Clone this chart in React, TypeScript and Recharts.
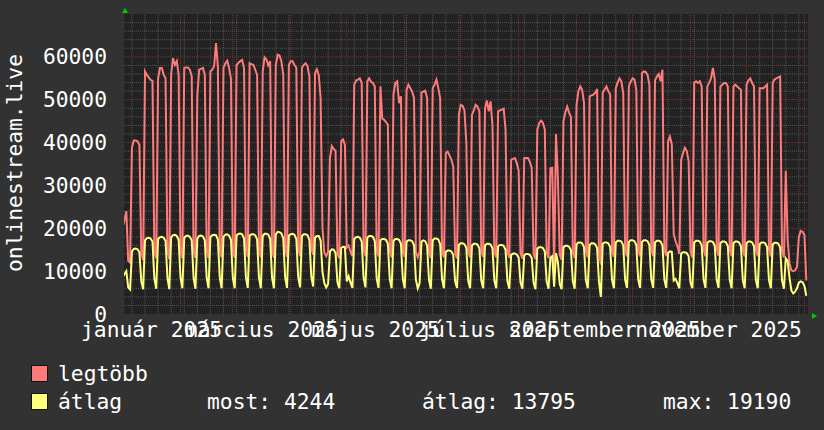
import React from 'react';
import { LineChart, Line, XAxis, YAxis, CartesianGrid, ReferenceLine } from 'recharts';

// Daily values, thousands. Index 0 = 2025-01-01 (Wednesday).
const maxK = [
  20, 22, 24, 12.4, 12,
  38.8, 40.5, 40.5, 40.3, 39.5, 14.2, 12.6,
  56.6, 55.8, 55.2, 54.6, 54.4, 14.5, 13,
  55, 57.4, 57.4, 55.8, 55, 14.6, 12.8,
  56, 59.7, 58.1, 59, 55.8, 14.8, 13,
  57.4, 57.5, 57.5, 57, 55.5, 14.6, 13.1,
  51, 57, 57.2, 57.4, 55.8, 14.7, 13,
  56.6, 57, 57.8, 63.2, 57.8, 14.9, 13.2,
  57.4, 58.5, 59.1, 57.4, 55, 14.8, 13.1,
  58.1, 58.6, 59, 59.3, 57.4, 14.9, 13.3,
  58.5, 58.3, 58.1, 57, 55.8, 14.7, 13.2,
  56.6, 59.9, 59.4, 58, 59, 14.8, 13.1,
  58, 60.5, 60.3, 59, 55.8, 15, 13.3,
  58.1, 59, 59, 58.1, 57.5, 15.2, 13.5,
  57.5, 58.1, 58.5, 57.8, 55.4, 15.5, 13.8,
  56.2, 57.1, 55.8, 50.4, 20, 14.3, 13.5,
  14.5, 36.4, 39.2, 38.5, 38.1, 14, 13,
  40.3, 40.7, 39.5, 15.5, 16, 14.5, 13.5,
  53.5, 54.5, 54.7, 55, 53.9, 15, 13.5,
  54.3, 55, 54.2, 53.9, 53.1, 14.8, 13.4,
  53.1, 45.6, 45.3, 44.8, 44.2, 14.6, 13.2,
  51.2, 53.9, 54.3, 49.2, 50.8, 14.6, 13.3,
  52.3, 53.5, 52.7, 51.9, 50.4, 14.5, 13.2,
  14.5, 51.7, 51.9, 52.1, 50.4, 14.4, 13,
  52.7, 53.5, 54.7, 52.7, 50.4, 14.6, 13.2,
  37.5, 37.9, 37, 36, 34.4, 14.2, 13,
  46.5, 48.8, 48.6, 47.5, 40, 14.5, 13.2,
  46.5, 47.5, 48.8, 48.4, 47.3, 14.6, 13.3,
  48, 49.8, 47.3, 49.6, 44, 14.6, 13.2,
  47.3, 47.5, 47.7, 47.9, 43, 14.5, 13.1,
  36, 36.2, 36.4, 35.2, 33.5, 14.2, 12.9,
  36.4, 36.4, 36.4, 35.5, 34.1, 14, 12.8,
  43, 44.5, 45.1, 44.6, 43.1, 14.3, 13,
  34, 34.1, 10.5, 42, 32, 13.8, 12.6,
  45, 47, 48.4, 47, 46, 14.4, 13,
  48.8, 52, 53.1, 52.3, 49.2, 14.6, 13.2,
  50.8, 51, 51.2, 51.6, 52.5, 14.5, 11.5,
  51.6, 52.4, 53.1, 52, 51.2, 14.7, 13.3,
  52.7, 54, 55, 54.3, 51.5, 14.8, 13.4,
  53.1, 54.2, 55, 54.7, 52.3, 14.8, 13.4,
  56.2, 56.6, 56.5, 55.8, 53.5, 15, 13.5,
  54.5, 55.4, 56, 54.3, 57, 15, 13.5,
  40.3, 41.4, 39.5, 18.7, 17, 15.8, 14,
  36, 37.5, 38.8, 38, 35.7, 14.5, 13.2,
  54, 54.3, 53.9, 54.3, 53.1, 15, 13.5,
  53.1, 54, 55, 57.4, 54.7, 15.1, 13.6,
  53.1, 53.5, 53.9, 53.9, 53.1, 15, 13.5,
  53.1, 53.5, 53.1, 52.7, 52.3, 15, 13.4,
  53.5, 54.5, 55, 53.9, 53.1, 15, 13.5,
  52.7, 52.7, 52.7, 53.1, 53.5, 15, 13.4,
  54, 54.7, 55, 55.2, 55.4, 14.8, 13.2,
  33.4, 17.5, 11.8, 10.2, 10, 10.2, 11,
  18, 19.4, 19.2, 18.4, 7.8,
];

const avgK = [
  8.5, 9.3, 10, 6.2, 5.7,
  14.6, 15.2, 15.3, 15.1, 14.4, 7.6, 5.8,
  17.2, 17.7, 17.8, 17.6, 16.9, 8.3, 5.9,
  17.5, 17.9, 18, 17.8, 17, 8.4, 5.8,
  17.9, 18.4, 18.5, 18.2, 17.3, 8.5, 6,
  17.8, 18.2, 18.3, 18, 17.2, 8.4, 5.9,
  17.6, 18.2, 18.3, 18.1, 17.2, 8.5, 6,
  18, 18.4, 18.5, 18.4, 17.4, 8.6, 6,
  18, 18.5, 18.6, 18.3, 17.3, 8.5, 6,
  18.3, 18.7, 18.8, 18.6, 17.6, 8.6, 6.1,
  18.3, 18.6, 18.6, 18.4, 17.4, 8.5, 6,
  18.2, 18.7, 18.7, 18.5, 17.5, 8.5, 6,
  18.6, 19.19, 19.1, 18.8, 17.7, 8.6, 6.1,
  18.3, 18.6, 18.7, 18.5, 17.5, 8.6, 6.2,
  18.2, 18.6, 18.6, 18.4, 17.3, 8.8, 6.4,
  17.8, 18.2, 18.2, 17.2, 9.8, 7.2, 6.2,
  7, 14.6, 15.1, 15, 14.2, 7.4, 6,
  15.4, 15.7, 15.6, 7.6, 8.8, 7.3, 6.1,
  17.5, 17.9, 18, 17.8, 16.9, 8.4, 6.2,
  17.8, 18.2, 18.2, 18, 17, 8.3, 6.1,
  17.2, 17.5, 17.5, 17.3, 16.4, 8.2, 6,
  17.1, 17.5, 17.5, 17.3, 16.4, 8.2, 6,
  16.9, 17.2, 17.2, 17, 16.1, 8, 6,
  7.2, 16.9, 17.2, 17, 16, 8, 5.9,
  17.2, 17.6, 17.6, 17.4, 16.3, 8.1, 6,
  14.5, 14.8, 14.8, 14.6, 13.8, 7.6, 6.1,
  16.1, 16.5, 16.5, 16.3, 15.4, 7.8, 6,
  16, 16.4, 16.4, 16.2, 15.3, 7.8, 6,
  16, 16.4, 16.4, 16.2, 15.3, 7.8, 6,
  15.8, 16.1, 16.1, 15.9, 15, 7.7, 5.9,
  13.8, 14.1, 14.1, 13.9, 13.2, 7.4, 5.9,
  13.7, 14, 14, 13.8, 13.1, 7.3, 5.8,
  15.3, 15.6, 15.6, 15.4, 14.6, 7.6, 5.9,
  13.2, 13.5, 6.4, 14.2, 12.2, 7, 5.8,
  15.6, 15.9, 15.9, 15.7, 14.9, 7.7, 5.9,
  16.3, 16.7, 16.7, 16.5, 15.6, 7.9, 6,
  16.1, 16.5, 16.5, 16.3, 15.4, 7.6, 4,
  16.4, 16.7, 16.7, 16.5, 15.6, 7.9, 6,
  16.7, 17.1, 17.1, 16.9, 16, 8, 6.1,
  16.8, 17.2, 17.2, 17, 16.1, 8, 6.1,
  16.8, 17.2, 17.2, 17, 16.1, 8.1, 6.1,
  16.7, 17.1, 17.1, 16.9, 16, 8, 6.1,
  14.3, 14.6, 14.5, 7.8, 8.2, 7.2, 6,
  14.1, 14.4, 14.4, 14.2, 13.5, 7.3, 6,
  16.7, 17.1, 17.1, 16.9, 16, 8, 6.1,
  16.6, 17, 17, 16.8, 15.9, 8, 6.1,
  16.5, 16.9, 16.9, 16.7, 15.8, 8, 6,
  16.5, 16.9, 16.9, 16.7, 15.8, 7.9, 6,
  16.5, 16.9, 16.9, 16.7, 15.8, 7.9, 6,
  16.3, 16.7, 16.7, 16.5, 15.6, 7.9, 6,
  16.2, 16.6, 16.6, 16.4, 15.5, 7.8, 5.9,
  13, 12.4, 8.5, 5.5, 4.8, 5.2, 6,
  7.3, 7.6, 7.4, 6.5, 4.244,
];

const monthLabels = ['január 2025', 'március 2025', 'május 2025', 'július 2025', 'szeptember 2025', 'november 2025'];
const monthLabelDays = [15.5, 74.5, 135.5, 196.5, 258, 319];
const monthStartDays = [31, 59, 90, 120, 151, 181, 212, 243, 273, 304, 334, 365];
const yTicks = [0, 10000, 20000, 30000, 40000, 50000, 60000];
const seriesNames = ['legtöbb', 'átlag'];
const avgStats = { most: '4244', atlag: '13795', max: '19190' };

const RED = '#ff7b7b';
const YELLOW = '#ffff7b';
const FONT = '"DejaVu Sans Mono", monospace';
const FS = 21.3;

const data = maxK.map((v, i) => ({ day: i, max: v * 1000, avg: avgK[i] * 1000 }));

const mondays: number[] = [];
for (let d = 5; d <= 366; d += 7) mondays.push(d);
const minorY: number[] = [];
for (let v = 2000; v < 70000; v += 2000) if (v % 10000 !== 0) minorY.push(v);
const majorY = [10000, 20000, 30000, 40000, 50000, 60000];

const MINOR = '#555555';
const MAJOR = '#7a3535';

export default function App() {
  return (
    <div style={{ position: 'absolute', left: 0, top: 0, width: 824, height: 430, background: '#323232', overflow: 'hidden', fontFamily: FONT, color: '#ffffff' }}>
      <LineChart width={824} height={430} data={data} margin={{ top: 14, right: 16, bottom: 0, left: 0 }}>
        <CartesianGrid horizontal={false} vertical={false} fill="#222222" stroke="none" />
        {mondays.map((d) => (
          <ReferenceLine key={'w' + d} x={d} stroke={MINOR} strokeDasharray="1 1" strokeWidth={1} />
        ))}
        {minorY.map((v) => (
          <ReferenceLine key={'h' + v} y={v} stroke={MINOR} strokeDasharray="1 1" strokeWidth={1} />
        ))}
        {monthStartDays.map((d) => (
          <ReferenceLine key={'m' + d} x={d} stroke={MAJOR} strokeDasharray="1 1" strokeWidth={1} />
        ))}
        {majorY.map((v) => (
          <ReferenceLine key={'H' + v} y={v} stroke={MAJOR} strokeDasharray="1 1" strokeWidth={1} />
        ))}
        <XAxis
          dataKey="day"
          type="number"
          domain={[0.75, 366.9]}
          allowDataOverflow
          ticks={monthLabelDays}
          interval={0}
          tickFormatter={(v: number) => monthLabels[monthLabelDays.indexOf(v)] ?? ''}
          height={116}
          axisLine={false}
          tickLine={false}
          tickSize={0}
          tickMargin={8}
          tick={{ fill: '#ffffff', fontFamily: FONT, fontSize: FS }}
        />
        <YAxis
          type="number"
          domain={[0, 70000]}
          ticks={yTicks}
          width={124}
          axisLine={false}
          tickLine={false}
          tickSize={0}
          tickMargin={17}
          tick={{ fill: '#ffffff', fontFamily: FONT, fontSize: FS }}
        />
        <Line type="linear" dataKey="max" name={seriesNames[0]} stroke={RED} strokeWidth={2} dot={false} isAnimationActive={false} />
        <Line type="linear" dataKey="avg" name={seriesNames[1]} stroke={YELLOW} strokeWidth={2} dot={false} isAnimationActive={false} />
      </LineChart>

      <div style={{ position: 'absolute', left: 15, top: 163, transform: 'translate(-50%, -50%) rotate(-90deg)', whiteSpace: 'nowrap', fontSize: FS, lineHeight: '26px' }}>
        onlinestream.live
      </div>

      <svg width={824} height={430} style={{ position: 'absolute', left: 0, top: 0, pointerEvents: 'none' }}>
        <polygon points="122,13 128,13 125,8" fill="#00cc00" />
        <polygon points="812,313 812,319 817,316" fill="#00cc00" />
      </svg>

      <div style={{ position: 'absolute', left: 31, top: 365, width: 17, height: 17, boxSizing: 'border-box', border: '1px solid #111', background: RED }} />
      <div style={{ position: 'absolute', left: 58, top: 361, fontSize: FS, lineHeight: '26px', whiteSpace: 'pre' }}>{seriesNames[0]}</div>
      <div style={{ position: 'absolute', left: 31, top: 393, width: 17, height: 17, boxSizing: 'border-box', border: '1px solid #111', background: YELLOW }} />
      <div style={{ position: 'absolute', left: 58, top: 389, fontSize: FS, lineHeight: '26px', whiteSpace: 'pre' }}>{seriesNames[1]}</div>
      <div style={{ position: 'absolute', left: 207, top: 389, fontSize: FS, lineHeight: '26px', whiteSpace: 'pre' }}>{'most: ' + avgStats.most}</div>
      <div style={{ position: 'absolute', left: 422, top: 389, fontSize: FS, lineHeight: '26px', whiteSpace: 'pre' }}>{'átlag: ' + avgStats.atlag}</div>
      <div style={{ position: 'absolute', left: 663, top: 389, fontSize: FS, lineHeight: '26px', whiteSpace: 'pre' }}>{'max: ' + avgStats.max}</div>
    </div>
  );
}
